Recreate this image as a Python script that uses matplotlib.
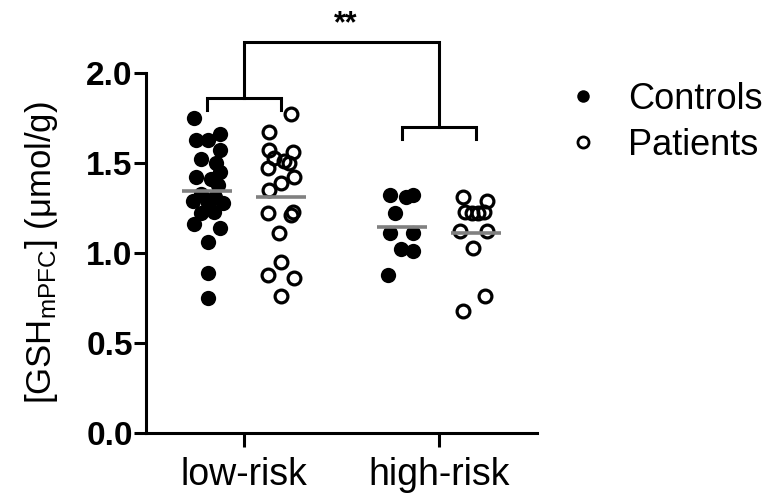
import numpy as np
import matplotlib
matplotlib.use("Agg")
import matplotlib.pyplot as plt
from matplotlib.lines import Line2D

plt.rcParams['font.family'] = ['Liberation Sans', 'DejaVu Sans']
plt.rcParams['mathtext.fontset'] = 'custom'
plt.rcParams['mathtext.rm'] = 'Liberation Sans'
plt.rcParams['mathtext.it'] = 'Liberation Sans:italic'

# GSH values (umol/g), with the sideways scatter of each dot
groups = ["low-risk", "high-risk"]

ctrl_low = [1.75, 1.66, 1.63, 1.63, 1.57, 1.52, 1.50, 1.45, 1.42, 1.41, 1.38, 1.33,
            1.31, 1.29, 1.28, 1.28, 1.23, 1.22, 1.16, 1.14, 1.06, 0.89, 0.75]
ctrl_low_jit = [-0.066, 0.071, -0.056, 0.005, 0.066, -0.031, 0.046, 0.071, -0.056, 0.020,
                0.056, -0.031, 0.041, -0.071, 0.005, 0.082, 0.036, -0.031, -0.066, 0.071,
                0.005, 0.005, 0.005]

pat_low = [1.77, 1.67, 1.57, 1.56, 1.53, 1.51, 1.50, 1.47, 1.42, 1.39, 1.35, 1.23,
           1.22, 1.21, 1.11, 0.95, 0.88, 0.86, 0.76]
pat_low_jit = [0.051, -0.061, -0.061, 0.061, -0.036, 0.015, 0.041, -0.066, 0.066, 0.0,
               -0.061, 0.061, -0.066, 0.051, -0.010, 0.0, -0.066, 0.066, 0.0]

ctrl_high = [1.32, 1.31, 1.32, 1.22, 1.11, 1.11, 1.02, 1.01, 0.88]
ctrl_high_jit = [-0.061, 0.020, 0.056, -0.036, -0.061, 0.056, -0.005, 0.056, -0.071]

pat_high = [1.31, 1.29, 1.23, 1.22, 1.22, 1.23, 1.12, 1.12, 1.03, 0.76, 0.68]
pat_high_jit = [-0.071, 0.056, -0.056, -0.020, 0.010, 0.041, -0.082, 0.056, -0.015, 0.046, -0.071]

controls = [ctrl_low, ctrl_high]
controls_jit = [ctrl_low_jit, ctrl_high_jit]
patients = [pat_low, pat_high]
patients_jit = [pat_low_jit, pat_high_jit]

# significance brackets
inner_levels = [1.86, 1.70]
top_level = 2.17
star_text = "**"

fig = plt.figure(figsize=(7.71, 4.99), dpi=100)
ax = fig.add_axes([146 / 771, 1 - 433 / 499, (537 - 146) / 771, (433 - 73) / 499])

xpos = np.arange(1, len(groups) + 1)
off = 0.19
lw = 2.2

for i, x in enumerate(xpos):
    xc = x - off
    xp = x + off
    ax.plot(xc + np.array(controls_jit[i]), controls[i], 'o', color='black',
            ms=11, mew=0, clip_on=False, zorder=3)
    ax.plot(xp + np.array(patients_jit[i]), patients[i], 'o', mfc='none', mec='black',
            ms=9.2, mew=2.3, clip_on=False, zorder=3)
    ax.hlines(np.mean(controls[i]), xc - 0.128, xc + 0.128, color='#808080', lw=2.6, zorder=4)
    ax.hlines(np.mean(patients[i]), xp - 0.128, xp + 0.128, color='#808080', lw=2.6, zorder=4)

    # inner bracket
    lev = inner_levels[i]
    ax.plot([xc, xc, xp, xp], [lev - 0.065, lev, lev, lev - 0.065], color='black',
            lw=lw, clip_on=False, solid_joinstyle='miter')

# outer bracket
ax.plot([xpos[0], xpos[0], xpos[1], xpos[1]],
        [inner_levels[0], top_level, top_level, inner_levels[1]],
        color='black', lw=lw, clip_on=False, solid_joinstyle='miter')
ax.text(xpos.mean() + 0.02, top_level + 0.055, star_text, ha='center', va='baseline',
        fontsize=22, fontweight='bold')

ax.set_xlim(0.5, 2.5)
ax.set_ylim(0, 2.0)
ax.set_yticks([0.0, 0.5, 1.0, 1.5, 2.0])
ax.set_yticklabels(["0.0", "0.5", "1.0", "1.5", "2.0"], fontweight='bold')
ax.set_xticks(xpos)
ax.set_xticklabels(groups)

for s in ['top', 'right']:
    ax.spines[s].set_visible(False)
for s in ['left', 'bottom']:
    ax.spines[s].set_linewidth(lw)
ax.tick_params(axis='y', length=8.6, width=lw, labelsize=24, pad=1)
ax.tick_params(axis='x', length=10, width=lw, labelsize=27, pad=7)

ax.set_ylabel(r'[GSH$_{\mathrm{mPFC}}$] ($\mathrm{\mu}$mol/g)', fontsize=25)
ax.yaxis.set_label_coords(-0.22, 0.5)

handles = [
    Line2D([], [], marker='o', ls='none', color='black', ms=9, mew=0),
    Line2D([], [], marker='o', ls='none', mfc='none', mec='black', ms=8, mew=2.0),
]
fig.legend(handles, ["Controls", "Patients"], loc='upper left',
           bbox_to_anchor=(561 / 771, 1 - 82 / 499), frameon=False, fontsize=26,
           handlelength=1.2, handletextpad=0.65, labelspacing=0.3, borderpad=0,
           borderaxespad=0)

fig.savefig("out.png", dpi=100)
